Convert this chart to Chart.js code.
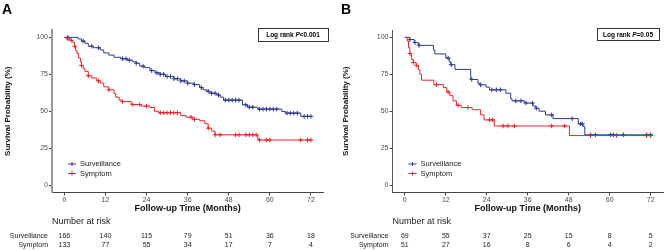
<!DOCTYPE html>
<html lang="en">
<head>
  <meta charset="UTF-8" />
  <title>Kaplan-Meier: Surveillance vs Symptom</title>
  <script src="https://cdn.jsdelivr.net/npm/chart.js"></script>
  <style>
    body { margin: 0; background: #fff; }
    .row { display: flex; width: 668px; height: 250px; }
    canvas { display: block; }
  </style>
</head>
<body>
  <div class="row">
    <canvas id="chartA" width="334" height="250"></canvas>
    <canvas id="chartB" width="334" height="250"></canvas>
  </div>

  <script>
    const monthTicks = [0, 12, 24, 36, 48, 60, 72];
    const survTicks = [0, 25, 50, 75, 100];
    const groups = ["Surveillance", "Symptom"];

    // panel A - step curves (time in months, survival %)
    const aSurvTimes = [0, 4, 5, 6, 7, 8.5, 10.5, 11.5, 13, 14.5, 16.5, 18.5, 20, 21, 22, 23.5, 25, 26.5, 28, 29.5, 32, 34, 36, 38, 39.5, 40.5, 41.5, 42.5, 44.5, 45.5, 46.5, 52, 53.5, 56.5, 63.5, 64.5, 69, 72];
    const aSurvProb = [100, 99, 97.5, 96, 94, 93, 91.5, 89.5, 88, 86.5, 85.5, 84.5, 83.5, 82.5, 80.5, 79.5, 77.5, 76, 75, 73.5, 72, 70.5, 69, 68, 66, 64.5, 63.5, 62.2, 61, 59.5, 57.5, 54.3, 52.7, 51.4, 49.8, 48.7, 46.5, 46.5];
    const aSympTimes = [0, 1, 1.7, 2.5, 3, 3.3, 3.7, 4.2, 4.7, 5, 5.5, 6, 7, 8, 9.5, 10.5, 11.5, 13, 14.5, 15, 16, 17, 19.5, 22.5, 25, 26.3, 27.5, 34, 35.5, 37.5, 39.5, 41, 42, 43, 44, 56.5, 72];
    const aSympProb = [100, 99, 98, 96.5, 94, 91, 89, 86, 83.5, 81, 79, 77, 74, 72.5, 70.5, 69, 66.5, 64.5, 62, 59.5, 57.5, 56.5, 54.5, 53.5, 52.5, 50, 49, 47, 46, 44.5, 43.5, 41.5, 38.5, 36.5, 34, 30.5, 30.5];
    const aSurvCensor = [1, 5.5, 8, 10, 17, 18, 19, 21, 23, 25.5, 27, 28, 29, 30, 31, 32, 33, 34, 35, 36, 38, 40, 42, 43, 44, 45, 47, 48, 49, 50, 51, 53, 54, 55, 57, 58, 59, 60, 61, 62, 65, 66, 67, 68, 70, 71, 72];
    const aSympCensor = [1, 2, 3, 5, 7, 10, 13, 17, 20, 22, 24, 28, 29, 30, 31, 32, 33, 37, 38, 42, 44, 45.5, 50, 51, 53, 54, 55, 56, 57, 59, 60, 69, 71, 72];
    const aRiskSurv = [166, 140, 115, 79, 51, 36, 18];
    const aRiskSymp = [133, 77, 55, 34, 17, 7, 4];

    // panel B
    const bSurvTimes = [0, 1.4, 2.8, 4, 8.4, 8.8, 12, 13, 13.5, 14.7, 19.3, 21.4, 21.9, 23.8, 24.8, 29.6, 31, 31.4, 35, 37.5, 38.4, 39.3, 41.2, 43.4, 50.8, 52.2, 52.7, 72];
    const bSurvProb = [100, 98.5, 96.5, 94.6, 91.5, 88.8, 86, 83.5, 81.5, 78.3, 71.5, 69, 67.9, 66.3, 64.5, 62.2, 58.5, 57, 55.5, 53.5, 52, 50, 47.5, 45, 41.4, 39.6, 34, 34];
    const bSympTimes = [0, 0.7, 1.1, 1.5, 2, 2.5, 3.3, 4, 4.4, 4.9, 8.5, 11.3, 12.3, 13.2, 14.1, 15.1, 16.5, 19.7, 22.2, 23.2, 26.2, 48.2, 72];
    const bSympProb = [100, 97.5, 93, 89, 85, 83, 81, 78, 75, 71, 68, 66, 63, 60.5, 57, 54, 52.5, 51, 47.5, 44.1, 40, 33.5, 33.5];
    const bSurvCensor = [1.5, 3, 4.2, 12.7, 13.6, 19.6, 22.2, 25.5, 26.8, 28, 32.5, 34, 35.5, 37.4, 38.5, 43, 49, 51.5, 52, 54.4, 55.8, 60.2, 61, 64, 70.8, 72];
    const bSympCensor = [1.5, 2.5, 3.5, 9.3, 12.7, 15.6, 18.5, 24.8, 25.7, 28.8, 30.2, 32.1, 43, 46.8, 54.4, 62, 70.8, 72];
    const bRiskSurv = [69, 55, 37, 25, 15, 8, 5];
    const bRiskSymp = [51, 27, 16, 8, 6, 4, 2];

    const blue = "#2d3a8f";
    const red = "#e3262c";
    const family = '"Liberation Sans", Arial, sans-serif';

    const steps = (t, s) => t.map((v, i) => ({ x: v, y: s[i] }));

    // value of the step curve at a censor time
    function survAt(t, s, at) {
      let v = s[0];
      for (let i = 0; i < t.length; i++) if (t[i] <= at) v = s[i];
      return v;
    }
    const marks = (c, t, s) => c.map(v => ({ x: v, y: survAt(t, s, v) }));

    const kmExtras = {
      id: "kmExtras",
      afterDraw(chart, args, o) {
        const ctx = chart.ctx;
        const xs = chart.scales.x;
        const left = chart.chartArea.left;
        ctx.save();

        // panel letter
        ctx.fillStyle = "#000";
        ctx.font = "bold 14px " + family;
        ctx.textAlign = "left";
        ctx.textBaseline = "alphabetic";
        ctx.fillText(o.letter, o.letterX, 14);

        // log rank box
        ctx.strokeStyle = "#333";
        ctx.lineWidth = 1;
        ctx.strokeRect(o.box[0] + 0.5, o.box[1] + 0.5, o.box[2], o.box[3]);
        const parts = [["Log rank ", "bold"], ["P", "italic bold"], [o.pText, "bold"]];
        let w = 0;
        parts.forEach(p => { ctx.font = p[1] + " 6.5px " + family; w += ctx.measureText(p[0]).width; });
        let tx = o.box[0] + o.box[2] / 2 - w / 2;
        ctx.textBaseline = "middle";
        parts.forEach(p => {
          ctx.font = p[1] + " 6.5px " + family;
          ctx.fillText(p[0], tx, o.box[1] + o.box[3] / 2 + 1);
          tx += ctx.measureText(p[0]).width;
        });

        // legend
        [blue, red].forEach((c, i) => {
          const y = 164 + i * 9.5;
          ctx.strokeStyle = c;
          ctx.beginPath();
          ctx.moveTo(left + 16, y); ctx.lineTo(left + 24, y);
          ctx.moveTo(left + 20, y - 2); ctx.lineTo(left + 20, y + 2);
          ctx.stroke();
          ctx.fillStyle = "#222";
          ctx.font = "7.5px " + family;
          ctx.textAlign = "left";
          ctx.fillText(groups[i], left + 28, y);
        });

        // risk table
        ctx.fillStyle = "#222";
        ctx.font = "9px " + family;
        ctx.fillText("Number at risk", left, 222);
        ctx.font = "7px " + family;
        [o.riskSurv, o.riskSymp].forEach((row, r) => {
          const y = 236 + r * 9;
          ctx.textAlign = "right";
          ctx.fillText(groups[r], left - 4, y);
          ctx.textAlign = "center";
          row.forEach((n, i) => ctx.fillText(String(n), xs.getPixelForValue(monthTicks[i]), y));
        });
        ctx.restore();
      }
    };

    function makeChart(id, p) {
      return new Chart(document.getElementById(id), {
        type: "line",
        data: {
          datasets: [
            { data: steps(p.sympT, p.sympS), stepped: true, borderColor: red, borderWidth: 1, pointRadius: 0, fill: false },
            { data: steps(p.survT, p.survS), stepped: true, borderColor: blue, borderWidth: 1, pointRadius: 0, fill: false },
            { data: marks(p.sympC, p.sympT, p.sympS), showLine: false, pointStyle: "cross", pointRadius: 2.3, borderColor: red, borderWidth: 1 },
            { data: marks(p.survC, p.survT, p.survS), showLine: false, pointStyle: "cross", pointRadius: 2.3, borderColor: blue, borderWidth: 1 }
          ]
        },
        options: {
          responsive: false,
          animation: false,
          devicePixelRatio: 1,
          layout: { padding: { top: 30, right: p.padRight, bottom: 35.6, left: 0 } },
          plugins: {
            legend: { display: false },
            tooltip: { enabled: false },
            kmExtras: {
              letter: p.letter, letterX: p.letterX, box: p.box, pText: p.pText,
              riskSurv: p.riskSurv, riskSymp: p.riskSymp
            }
          },
          scales: {
            x: {
              type: "linear", min: -3.6, max: 75.6,
              afterBuildTicks: s => { s.ticks = monthTicks.map(v => ({ value: v })); },
              afterFit: s => { s.height = 22; },
              grid: { drawOnChartArea: false, drawTicks: true, tickLength: 3, color: "#444" },
              border: { color: "#444", width: 1 },
              ticks: { padding: 0, color: "#4d4d4d", font: { size: 7, family }, maxRotation: 0 },
              title: { display: true, text: "Follow-up Time (Months)", color: "#111", font: { size: 9, weight: "bold", family }, padding: { top: 0, bottom: 0 } }
            },
            y: {
              min: -5, max: 105,
              afterBuildTicks: s => { s.ticks = survTicks.map(v => ({ value: v })); },
              afterFit: s => { s.width = p.axisLeft; },
              grid: { drawOnChartArea: false, drawTicks: true, tickLength: 3, color: "#444" },
              border: { color: p.yAxisColor, width: p.yAxisWidth },
              ticks: { padding: 1, color: "#4d4d4d", font: { size: 7, family } },
              title: { display: true, text: "Survival Probability (%)", color: "#111", font: { size: 8, weight: "bold", family }, padding: { top: p.titlePad, bottom: 0 } }
            }
          }
        },
        plugins: [kmExtras]
      });
    }

    makeChart("chartA", {
      survT: aSurvTimes, survS: aSurvProb, sympT: aSympTimes, sympS: aSympProb,
      survC: aSurvCensor, sympC: aSympCensor, riskSurv: aRiskSurv, riskSymp: aRiskSymp,
      letter: "A", letterX: 2, box: [258, 28, 70, 13], pText: "<0.001",
      axisLeft: 52, padRight: 10.7, titlePad: 3, yAxisColor: "#999", yAxisWidth: 2
    });

    makeChart("chartB", {
      survT: bSurvTimes, survS: bSurvProb, sympT: bSympTimes, sympS: bSympProb,
      survC: bSurvCensor, sympC: bSympCensor, riskSurv: bRiskSurv, riskSymp: bRiskSymp,
      letter: "B", letterX: 7, box: [263, 28, 62, 12], pText: "=0.05",
      axisLeft: 58.5, padRight: 3.3, titlePad: 7, yAxisColor: "#555", yAxisWidth: 1
    });
  </script>
</body>
</html>
